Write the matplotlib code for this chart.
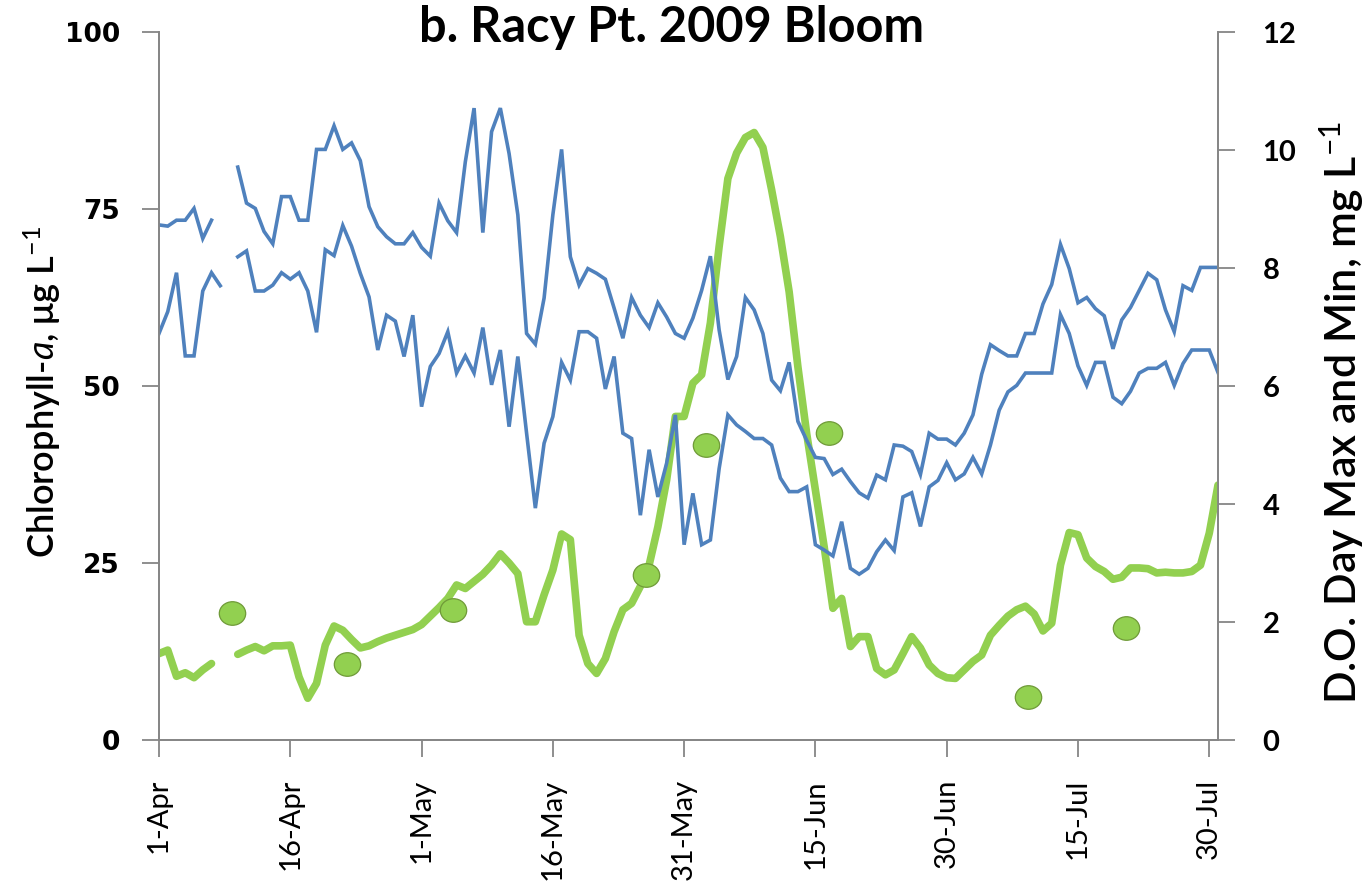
import numpy as np
import matplotlib
matplotlib.use("Agg")
import matplotlib.pyplot as plt
from matplotlib.path import Path
from matplotlib.transforms import Affine2D
from matplotlib.markers import MarkerStyle

nan = np.nan
# Day index: 0 = 1-Apr ... 121 = 31-Jul (2009)
days = np.arange(122)

chl_daily = [12.2, 12.7, 9.0, 9.5, 8.8, 9.9, 10.8, nan, nan, 12.1,
             12.7, 13.2, 12.6, 13.3, 13.3, 13.4, 8.9, 5.9, 8.0, 13.4,
             16.1, 15.5, 14.2, 13.0, 13.3, 13.9, 14.4, 14.8, 15.2, 15.6,
             16.3, 17.5, 18.7, 20.0, 21.9, 21.4, 22.4, 23.4, 24.7, 26.3,
             25.0, 23.5, 16.7, 16.7, 20.5, 24.0, 29.1, 28.3, 14.8, 10.8,
             9.4, 11.5, 15.3, 18.4, 19.3, 21.7, 24.7, 30.1, 36.7, 45.7,
             45.7, 50.4, 51.6, 58.9, 69.7, 79.3, 82.9, 85.1, 85.8, 83.7,
             77.7, 71.1, 63.3, 52.7, 43.3, 35.3, 27.3, 18.6, 20.0, 13.2,
             14.6, 14.6, 10.1, 9.2, 9.9, 12.2, 14.6, 13.0, 10.6, 9.4,
             8.8, 8.7, 9.9, 11.1, 12.0, 14.8, 16.2, 17.5, 18.4, 18.9,
             17.8, 15.4, 16.5, 24.7, 29.3, 29.0, 25.7, 24.5, 23.8, 22.7,
             23.0, 24.3, 24.3, 24.2, 23.6, 23.7, 23.6, 23.6, 23.8, 24.7,
             29.2, 36.0]

do_max = [8.73, 8.71, 8.81, 8.81, 9.01, 8.50, 8.81, nan, nan, 9.71,
          9.10, 9.01, 8.62, 8.41, 9.21, 9.21, 8.81, 8.81, 10.01, 10.01,
          10.41, 10.01, 10.12, 9.82, 9.04, 8.70, 8.53, 8.41, 8.41, 8.60,
          8.35, 8.20, 9.10, 8.80, 8.60, 9.80, 10.71, 8.60, 10.31, 10.71,
          9.94, 8.90, 6.89, 6.71, 7.49, 8.90, 10.01, 8.19, 7.71, 7.99,
          7.91, 7.81, 7.32, 6.81, 7.50, 7.20, 6.99, 7.41, 7.17, 6.89,
          6.81, 7.15, 7.62, 8.20, 6.95, 6.11, 6.50, 7.50, 7.29, 6.89,
          6.10, 5.92, 6.40, 5.40, 5.08, 4.79, 4.77, 4.50, 4.59, 4.38,
          4.19, 4.10, 4.49, 4.41, 5.00, 4.98, 4.89, 4.50, 5.20, 5.10,
          5.10, 5.00, 5.20, 5.51, 6.20, 6.70, 6.60, 6.51, 6.51, 6.89,
          6.89, 7.39, 7.72, 8.40, 7.99, 7.41, 7.50, 7.31, 7.19, 6.63,
          7.12, 7.33, 7.62, 7.91, 7.80, 7.29, 6.92, 7.70, 7.62, 8.01,
          8.01, 8.01]

do_min = [6.89, 7.26, 7.92, 6.51, 6.51, 7.61, 7.92, 7.70, nan, 8.19,
          8.29, 7.61, 7.61, 7.71, 7.92, 7.81, 7.92, 7.61, 6.91, 8.31,
          8.21, 8.72, 8.37, 7.91, 7.51, 6.61, 7.20, 7.10, 6.50, 7.20,
          5.65, 6.33, 6.55, 6.92, 6.22, 6.51, 6.22, 6.99, 6.02, 6.61,
          5.31, 6.50, 5.20, 3.93, 5.03, 5.48, 6.40, 6.10, 6.92, 6.92,
          6.81, 5.95, 6.50, 5.20, 5.11, 3.81, 4.92, 4.12, 4.69, 5.51,
          3.31, 4.18, 3.31, 3.39, 4.60, 5.51, 5.34, 5.23, 5.11, 5.11,
          5.00, 4.44, 4.21, 4.21, 4.29, 3.31, 3.22, 3.12, 3.70, 2.91,
          2.81, 2.91, 3.19, 3.39, 3.21, 4.12, 4.19, 3.62, 4.29, 4.40,
          4.70, 4.41, 4.51, 4.79, 4.51, 5.00, 5.59, 5.90, 6.01, 6.22,
          6.22, 6.22, 6.22, 7.21, 6.89, 6.34, 6.01, 6.40, 6.40, 5.81,
          5.70, 5.91, 6.22, 6.30, 6.30, 6.40, 6.01, 6.38, 6.61, 6.61,
          6.61, 6.23]

grab_days = [8.3, 21.5, 33.6, 55.6, 62.5, 76.6, 99.3, 110.5]
grab_chl = [17.9, 10.7, 18.4, 23.3, 41.7, 43.4, 6.1, 15.8]

tick_days = [0, 15, 30, 45, 60, 75, 90, 105, 120]
tick_labels = ["1-Apr", "16-Apr", "1-May", "16-May", "31-May",
               "15-Jun", "30-Jun", "15-Jul", "30-Jul"]
chl_ticks = [0, 25, 50, 75, 100]
do_ticks = [0, 2, 4, 6, 8, 10, 12]

plt.rcParams['mathtext.fontset'] = 'custom'
plt.rcParams['mathtext.rm'] = 'Lato'
plt.rcParams['mathtext.it'] = 'Lato:italic'
plt.rcParams['mathtext.bf'] = 'Lato:bold'

GREEN = "#92D050"
BLUE = "#4F81BD"
AXC = "#868686"

fig = plt.figure(figsize=(13.7, 8.88), dpi=100)
ax1 = fig.add_axes([159/1370, 1 - 740/888, (1218-159)/1370, (740-32)/888])
ax2 = ax1.twinx()

ax1.plot(days, chl_daily, color=GREEN, lw=5.5, solid_joinstyle='round',
         solid_capstyle='round', zorder=3)
ell = Path.unit_circle().transformed(Affine2D().scale(1.12, 1.0))
ax1.plot(grab_days, grab_chl, linestyle='none', marker=MarkerStyle(ell),
         markersize=19, markerfacecolor=GREEN, markeredgecolor="#6F9A38",
         markeredgewidth=0.9, zorder=4)

ax2.plot(days, do_max, color=BLUE, lw=2.6, solid_joinstyle='miter')
ax2.plot(days, do_min, color=BLUE, lw=2.6, solid_joinstyle='miter')

ax1.set_xlim(0, 121)
ax1.set_ylim(0, 100)
ax2.set_ylim(0, 12)

for ax in (ax1, ax2):
    ax.spines['top'].set_visible(False)
    for s in ('left', 'right', 'bottom'):
        ax.spines[s].set_color(AXC)
        ax.spines[s].set_linewidth(1.3)
    ax.patch.set_visible(False)

ax1.set_xticks(tick_days)
ax1.set_xticklabels(tick_labels, rotation=90, family='Lato', fontsize=21)
ax1.tick_params(axis='x', length=12, width=1.3, color=AXC, pad=16)

ax1.set_yticks(chl_ticks)
ax1.set_yticklabels([str(v) for v in chl_ticks], family='DejaVu Sans',
                    fontweight='bold', fontsize=19)
ax1.tick_params(axis='y', length=12, width=1.3, color=AXC, pad=16)

ax2.set_yticks(do_ticks)
ax2.set_yticklabels([str(v) for v in do_ticks], family='Lato',
                    fontweight='bold', fontsize=21)
ax2.tick_params(axis='y', length=12, width=1.3, color=AXC, pad=20)

fig.text(42/1370, 1 - 392/888, r'Chlorophyll-$\mathit{a}$, μg L$^{\mathrm{-1}}$',
         rotation=90, ha='center', va='center', family='Lato', fontsize=26,
         fontweight='semibold')
fig.text(1342/1370, 1 - 412/888, r'D.O. Day Max and Min, mg L$^{\mathrm{-1}}$',
         rotation=90, ha='center', va='center', family='Lato', fontsize=31,
         fontweight='semibold')
fig.text(672/1370, 1 - 28/888, 'b. Racy Pt. 2009 Bloom', ha='center',
         va='center', family='Lato', fontweight='bold', fontsize=35)

fig.savefig('out.png', dpi=100)
